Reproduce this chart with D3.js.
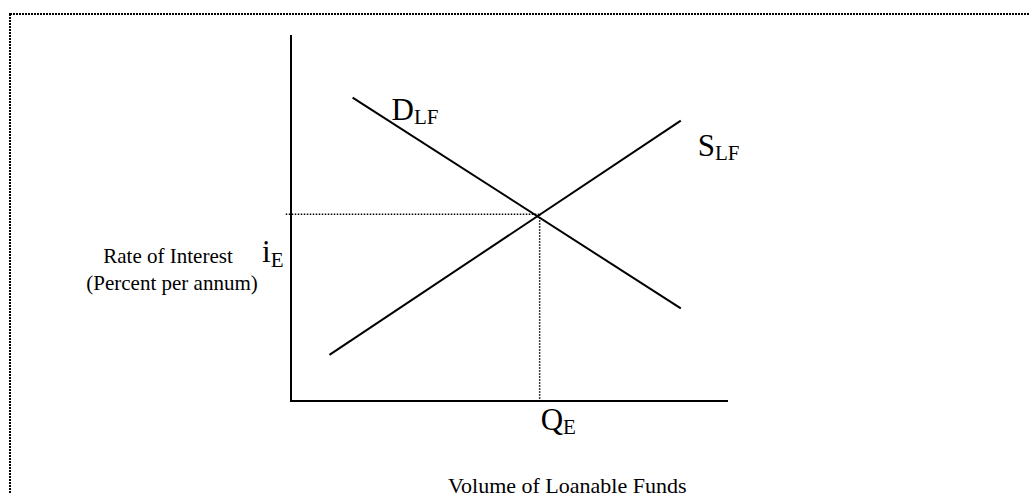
<!DOCTYPE html>
<html>
<head>
<meta charset="utf-8">
<script src="https://cdn.jsdelivr.net/npm/d3@7"></script>
<style>
  html,body{margin:0;padding:0;background:#fff;}
  svg{display:block;}
  text{font-family:"Liberation Serif","Times New Roman",serif;fill:#000;}
</style>
</head>
<body>
<svg id="chart" width="1029" height="494"></svg>
<script>
// curve end points in chart units (x: volume, y: rate), 0..100 on both axes
var demandPts=[{x:14.1,y:82.9},{x:89.2,y:25.3}];
var supplyPts=[{x:8.8,y:12.6},{x:89.2,y:76.6}];
var equilibrium={x:56.9,y:51.0};
var curveNames=["D","S"];
var curveSubs=["LF","LF"];
var axisTitles=["Rate of Interest","(Percent per annum)","Volume of Loanable Funds"];
var eqLabels=[{main:"i",sub:"E"},{main:"Q",sub:"E"}];

var svg=d3.select("#chart");

// page frame, dotted
svg.append("rect")
	.attr("x",10).attr("y",14)
	.attr("width",1040).attr("height",500)
	.attr("fill","none")
	.attr("stroke","#000")
	.attr("stroke-width",2)
	.attr("stroke-dasharray","2,1");

var x=d3.scaleLinear().domain([0,100]).range([291,728]);
var y=d3.scaleLinear().domain([0,100]).range([401,35]);

var line=d3.line().x(function(d){return x(d.x);}).y(function(d){return y(d.y);});

// axes (plain lines, no ticks)
svg.append("path")
	.attr("d",line([{x:0,y:100},{x:0,y:0},{x:100,y:0}]))
	.attr("fill","none")
	.attr("stroke","#000")
	.attr("stroke-width",2);

// dotted guides to equilibrium
svg.append("path")
	.attr("d",line([{x:-1.2,y:equilibrium.y},equilibrium]))
	.attr("stroke","#000").attr("stroke-width",1.5)
	.attr("stroke-dasharray","1.5,1.5");
svg.append("path")
	.attr("d",line([equilibrium,{x:equilibrium.x,y:0}]))
	.attr("stroke","#000").attr("stroke-width",1.5)
	.attr("stroke-dasharray","1.5,1.5");

// demand and supply
[demandPts,supplyPts].forEach(function(pts){
	svg.append("path")
		.attr("d",line(pts))
		.attr("fill","none")
		.attr("stroke","#000")
		.attr("stroke-width",2);
});

// labels with subscripts
function subLabel(px,py,main,sub,dy){
	var t=svg.append("text").attr("x",px).attr("y",py).attr("font-size",31);
	t.append("tspan").text(main);
	t.append("tspan").attr("font-size",21).attr("dy",dy).text(sub);
}
subLabel(x(demandPts[0].x)+39,y(demandPts[0].y)+22,curveNames[0],curveSubs[0],4);
subLabel(x(supplyPts[1].x)+17,y(supplyPts[1].y)+35,curveNames[1],curveSubs[1],4);
subLabel(262,y(equilibrium.y)+48,eqLabels[0].main,eqLabels[0].sub,5);
subLabel(x(equilibrium.x)+1,430,eqLabels[1].main,eqLabels[1].sub,4);

// axis titles
svg.append("text").attr("x",168).attr("y",263)
	.attr("text-anchor","middle").attr("font-size",21).text(axisTitles[0]);
svg.append("text").attr("x",172).attr("y",290)
	.attr("text-anchor","middle").attr("font-size",21).text(axisTitles[1]);
svg.append("text").attr("x",448).attr("y",493)
	.attr("font-size",22).text(axisTitles[2]);
</script>
</body>
</html>
